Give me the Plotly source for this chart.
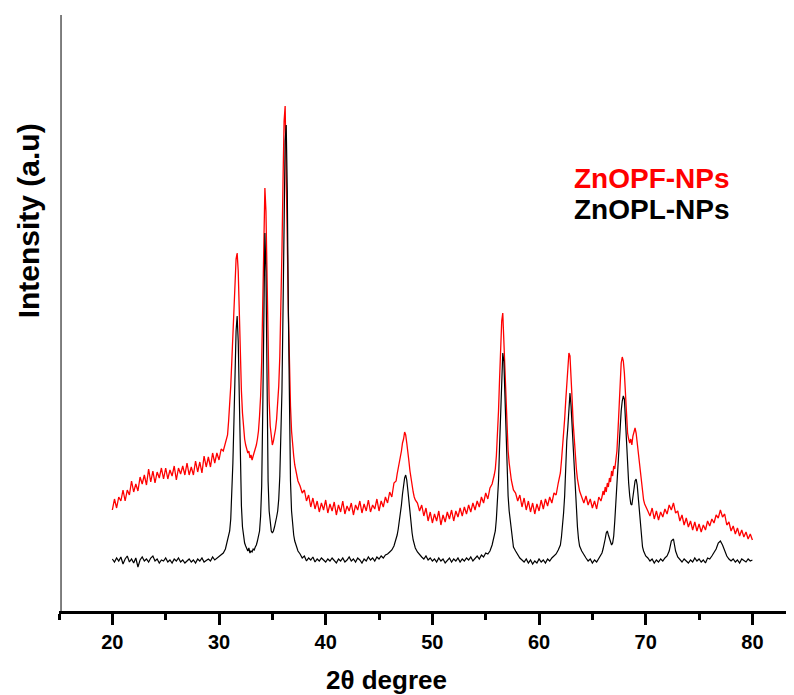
import plotly.graph_objects as go

# 2-theta sample positions (degrees)
two_theta = [
    # 20.0 - 30.8
    20.0, 20.2, 20.4, 20.6, 20.8, 21.0, 21.2, 21.4, 21.6, 21.8,
    22.0, 22.2, 22.4, 22.6, 22.8, 23.0, 23.2, 23.4, 23.6, 23.8,
    24.0, 24.2, 24.4, 24.6, 24.8, 25.0, 25.2, 25.4, 25.6, 25.8,
    26.0, 26.2, 26.4, 26.6, 26.8, 27.0, 27.2, 27.4, 27.6, 27.8,
    28.0, 28.2, 28.4, 28.6, 28.8, 29.0, 29.2, 29.4, 29.6, 29.8,
    30.0, 30.2, 30.4, 30.6, 30.8,
    # 30.9 - 37.4
    30.9,
    31.0, 31.1, 31.2, 31.3, 31.4, 31.5, 31.6, 31.7, 31.8, 31.9,
    32.0, 32.1, 32.2, 32.3, 32.4, 32.5, 32.6, 32.7, 32.8, 32.9,
    33.0, 33.1, 33.2, 33.3, 33.4, 33.5, 33.6, 33.7, 33.8, 33.9,
    34.0, 34.1, 34.2, 34.3, 34.4, 34.5, 34.6, 34.7, 34.8, 34.9,
    35.0, 35.1, 35.2, 35.3, 35.4, 35.5, 35.6, 35.7, 35.8, 35.9,
    36.0, 36.1, 36.2, 36.3, 36.4, 36.5, 36.6, 36.7, 36.8, 36.9,
    37.0, 37.1, 37.2, 37.3, 37.4,
    # 37.6 - 46.6
    37.6, 37.8,
    38.0, 38.2, 38.4, 38.6, 38.8, 39.0, 39.2, 39.4, 39.6, 39.8,
    40.0, 40.2, 40.4, 40.6, 40.8, 41.0, 41.2, 41.4, 41.6, 41.8,
    42.0, 42.2, 42.4, 42.6, 42.8, 43.0, 43.2, 43.4, 43.6, 43.8,
    44.0, 44.2, 44.4, 44.6, 44.8, 45.0, 45.2, 45.4, 45.6, 45.8,
    46.0, 46.2, 46.4, 46.6,
    # 46.7 - 48.4
    46.7, 46.8, 46.9,
    47.0, 47.1, 47.2, 47.3, 47.4, 47.5, 47.6, 47.7, 47.8, 47.9,
    48.0, 48.1, 48.2, 48.3, 48.4,
    # 48.6 - 55.8
    48.6, 48.8,
    49.0, 49.2, 49.4, 49.6, 49.8, 50.0, 50.2, 50.4, 50.6, 50.8,
    51.0, 51.2, 51.4, 51.6, 51.8, 52.0, 52.2, 52.4, 52.6, 52.8,
    53.0, 53.2, 53.4, 53.6, 53.8, 54.0, 54.2, 54.4, 54.6, 54.8,
    55.0, 55.2, 55.4, 55.6, 55.8,
    # 55.9 - 57.6
    55.9,
    56.0, 56.1, 56.2, 56.3, 56.4, 56.5, 56.6, 56.7, 56.8, 56.9,
    57.0, 57.1, 57.2, 57.3, 57.4, 57.5, 57.6,
    # 57.8 - 62.0
    57.8,
    58.0, 58.2, 58.4, 58.6, 58.8, 59.0, 59.2, 59.4, 59.6, 59.8,
    60.0, 60.2, 60.4, 60.6, 60.8, 61.0, 61.2, 61.4, 61.6, 61.8,
    62.0,
    # 62.1 - 63.8
    62.1, 62.2, 62.3, 62.4, 62.5, 62.6, 62.7, 62.8, 62.9,
    63.0, 63.1, 63.2, 63.3, 63.4, 63.5, 63.6, 63.7, 63.8,
    # 64.0 - 65.8
    64.0, 64.2, 64.4, 64.6, 64.8, 65.0, 65.2, 65.4, 65.6, 65.8,
    # 65.9 - 70.0
    65.9,
    66.0, 66.1, 66.2, 66.3, 66.4, 66.5, 66.6, 66.7, 66.8, 66.9,
    67.0, 67.1, 67.2, 67.3, 67.4, 67.5, 67.6, 67.7, 67.8, 67.9,
    68.0, 68.1, 68.2, 68.3, 68.4, 68.5, 68.6, 68.7, 68.8, 68.9,
    69.0, 69.1, 69.2, 69.3, 69.4, 69.5, 69.6, 69.7, 69.8, 69.9,
    70.0,
    # 70.2 - 80.0
    70.2, 70.4, 70.6, 70.8,
    71.0, 71.2, 71.4, 71.6, 71.8, 72.0, 72.2, 72.4, 72.6, 72.8,
    73.0, 73.2, 73.4, 73.6, 73.8, 74.0, 74.2, 74.4, 74.6, 74.8,
    75.0, 75.2, 75.4, 75.6, 75.8, 76.0, 76.2, 76.4, 76.6, 76.8,
    77.0, 77.2, 77.4, 77.6, 77.8, 78.0, 78.2, 78.4, 78.6, 78.8,
    79.0, 79.2, 79.4, 79.6, 79.8, 80.0,
]

# ZnOPF-NPs intensity (a.u.)
znopf = [
    101, 112, 103, 114, 110, 121, 110, 121, 116, 130,
    119, 127, 120, 134, 127, 136, 126, 142, 129, 140,
    128, 139, 133, 143, 132, 143, 132, 141, 135, 145,
    131, 143, 137, 145, 136, 148, 136, 144, 136, 150,
    139, 149, 138, 155, 144, 154, 144, 158, 148, 158,
    151, 162, 160, 169, 176,
    190,
    205, 225, 250, 280, 310, 335, 352, 358, 340, 300,
    255, 220, 198, 182, 172, 166, 163, 158, 160, 153,
    156, 151, 155, 158, 162, 166, 172, 180, 195, 215,
    250, 300, 365, 423, 400, 320, 250, 210, 185, 172,
    166, 170, 175, 182, 192, 205, 225, 255, 300, 360,
    430, 490, 505, 450, 370, 300, 245, 205, 180, 165,
    155, 146, 140, 134, 130,
    125, 118,
    121, 110, 116, 104, 113, 102, 110, 99, 108, 101,
    111, 98, 107, 100, 109, 96, 106, 99, 110, 97,
    105, 100, 108, 96, 106, 101, 110, 98, 107, 100,
    111, 99, 106, 102, 112, 100, 110, 104, 114, 108,
    119, 114, 128, 130,
    137, 142, 148,
    152, 160, 168, 172, 179, 176, 168, 161, 150, 140,
    131, 124, 119, 114, 111,
    108, 100,
    106, 95, 103, 90, 99, 88, 97, 90, 100, 86,
    96, 89, 99, 92, 101, 90, 100, 94, 103, 95,
    104, 97, 106, 99, 108, 101, 110, 104, 114, 108,
    118, 112, 123, 127, 136,
    142,
    155, 172, 200, 232, 265, 290, 298, 272, 240, 208,
    180, 160, 148, 138, 131, 126, 121,
    118,
    110, 116, 104, 113, 101, 110, 99, 108, 97, 107,
    100, 111, 102, 112, 105, 114, 108, 118, 116, 128,
    138,
    150, 162, 175, 192, 210, 228, 248, 258, 255,
    238, 212, 188, 170, 155, 142, 132, 126, 120,
    114, 108, 115, 106, 112, 103, 110, 102, 114, 110,
    114,
    120, 116, 124, 119, 128, 124, 133, 129, 140, 135,
    145, 142, 152, 160, 180, 205, 228, 248, 254, 250,
    238, 215, 190, 178, 172, 168, 172, 166, 175, 180,
    183, 178, 168, 158, 147, 138, 128, 118, 111, 107,
    104,
    100, 95, 103, 92,
    100, 91, 99, 94, 102, 97, 106, 101, 108, 98,
    100, 90, 96, 86, 93, 84, 90, 81, 89, 80,
    87, 79, 86, 81, 90, 85, 92, 88, 96, 93,
    101, 94, 97, 86, 89, 80, 85, 77, 83, 75,
    81, 74, 79, 72, 77, 71,
]

# ZnOPL-NPs intensity (a.u.)
znopl = [
    52, 49, 53, 50, 54, 47, 52, 55, 49, 52,
    48, 53, 44, 51, 54, 50, 52, 49, 53, 55,
    50, 52, 48, 51, 50, 53, 49, 51, 48, 52,
    50, 53, 49, 51, 48, 50, 52, 49, 51, 48,
    52, 50, 53, 49, 51, 52, 50, 54, 51, 53,
    55, 57, 58, 62, 70,
    74,
    80, 92, 115, 148, 190, 240, 280, 295, 270, 215,
    150, 105, 84, 73, 68, 65, 62, 60, 63, 58,
    60, 59, 62, 61, 64, 66, 70, 74, 80, 95,
    125, 200, 300, 378, 340, 220, 130, 100, 88, 80,
    78, 80, 84, 88, 94, 100, 112, 135, 170, 220,
    300, 400, 470, 486, 420, 300, 190, 130, 100, 84,
    76, 70, 66, 62, 60,
    57, 53,
    55, 50, 53, 51, 54, 49, 52, 50, 53, 51,
    49, 52, 50, 53, 51, 48, 52, 50, 53, 49,
    51, 54, 50, 52, 49, 53, 51, 48, 52, 50,
    54, 51, 53, 50, 54, 52, 55, 53, 56, 57,
    59, 61, 65, 72,
    76, 82, 89,
    96, 106, 117, 126, 133, 136, 131, 121, 108, 98,
    87, 78, 71, 66, 63,
    59, 56,
    54, 52, 55, 51, 53, 50, 52, 49, 53, 50,
    52, 48, 51, 53, 49, 52, 50, 53, 49, 52,
    50, 53, 51, 54, 50, 53, 55, 52, 56, 54,
    58, 57, 60, 66, 74,
    80,
    92, 110, 130, 165, 205, 240, 258, 250, 210, 175,
    140, 115, 100, 90, 78, 70, 64,
    60,
    56, 53, 51, 49, 52, 48, 51, 47, 50, 48,
    52, 49, 51, 48, 52, 50, 53, 55, 57, 61,
    66,
    74, 84, 98, 115, 145, 170, 184, 208, 218,
    205, 185, 165, 135, 112, 96, 84, 72, 65,
    60, 56, 53, 50, 52, 48, 51, 49, 53, 57,
    58,
    62, 66, 72, 78, 80, 76, 72, 68, 66, 68,
    75, 90, 108, 128, 150, 172, 188, 200, 210, 215,
    212, 190, 165, 145, 128, 115, 107, 106, 112, 122,
    130, 132, 126, 112, 98, 84, 72, 64, 60, 57,
    55,
    53, 50, 52, 48,
    51, 49, 52, 50, 53, 55, 60, 70, 72, 60,
    54, 51, 49, 52, 50, 48, 51, 49, 53, 50,
    52, 49, 51, 48, 53, 52, 55, 58, 62, 68,
    70, 66, 60, 55, 52, 50, 52, 49, 51, 48,
    52, 50, 49, 52, 50, 51,
]

series_names = ["ZnOPF-NPs", "ZnOPL-NPs"]
series_colors = ["#ff0000", "#000000"]
x_tick_vals = [20, 30, 40, 50, 60, 70, 80]
x_minor_vals = [15, 25, 35, 45, 55, 65, 75]

if not (len(two_theta) == len(znopf) == len(znopl)):
    raise ValueError(f"length mismatch {len(two_theta)} {len(znopf)} {len(znopl)}")

FONT = "Arial, 'Liberation Sans', sans-serif"

fig = go.Figure()
fig.add_trace(go.Scatter(x=two_theta, y=znopf, mode="lines", name=series_names[0],
                         line=dict(color=series_colors[0], width=1.3)))
fig.add_trace(go.Scatter(x=two_theta, y=znopl, mode="lines", name=series_names[1],
                         line=dict(color=series_colors[1], width=1.2)))

fig.update_layout(
    width=794, height=695,
    # page body adds an 8px offset; margins compensate for it
    margin=dict(l=51, r=8, t=7, b=92),
    plot_bgcolor="white", paper_bgcolor="white",
    showlegend=False,
    font=dict(family=FONT, color="black"),
    xaxis=dict(
        range=[15, 83.9], showgrid=False, zeroline=False,
        showline=True, linewidth=3, linecolor="black",
        ticks="outside", ticklen=11, tickwidth=3, tickcolor="black",
        tickvals=x_tick_vals, ticktext=[str(v) for v in x_tick_vals],
        tickfont=dict(family=FONT, size=20, color="black", weight="bold"),
        minor=dict(tickvals=x_minor_vals, ticks="outside", ticklen=6,
                   tickwidth=3, tickcolor="black", showgrid=False),
    ),
    yaxis=dict(
        range=[0, 596], showgrid=False, zeroline=False,
        showline=False, ticks="", showticklabels=False,
    ),
    shapes=[
        dict(type="line", xref="x", yref="paper", x0=15.19, x1=15.19, y0=0, y1=1,
             line=dict(color="black", width=1)),
    ],
    annotations=[
        dict(text="<b>ZnOPF-NPs</b>", x=0.698, y=0.725, xref="paper", yref="paper",
             xanchor="left", yanchor="middle", showarrow=False,
             font=dict(family=FONT, size=28, color=series_colors[0])),
        dict(text="<b>ZnOPL-NPs</b>", x=0.698, y=0.673, xref="paper", yref="paper",
             xanchor="left", yanchor="middle", showarrow=False,
             font=dict(family=FONT, size=28, color=series_colors[1])),
        dict(text="<b>Intensity (a.u)</b>", x=-0.042, y=0.654, xref="paper", yref="paper",
             xanchor="center", yanchor="middle", textangle=-90, showarrow=False,
             font=dict(family=FONT, size=30, color="black")),
        dict(text="<b>2θ degree</b>", x=0.445, y=-0.116, xref="paper", yref="paper",
             xanchor="center", yanchor="middle", showarrow=False,
             font=dict(family=FONT, size=26, color="black")),
    ],
)

fig.write_html("out.html")
